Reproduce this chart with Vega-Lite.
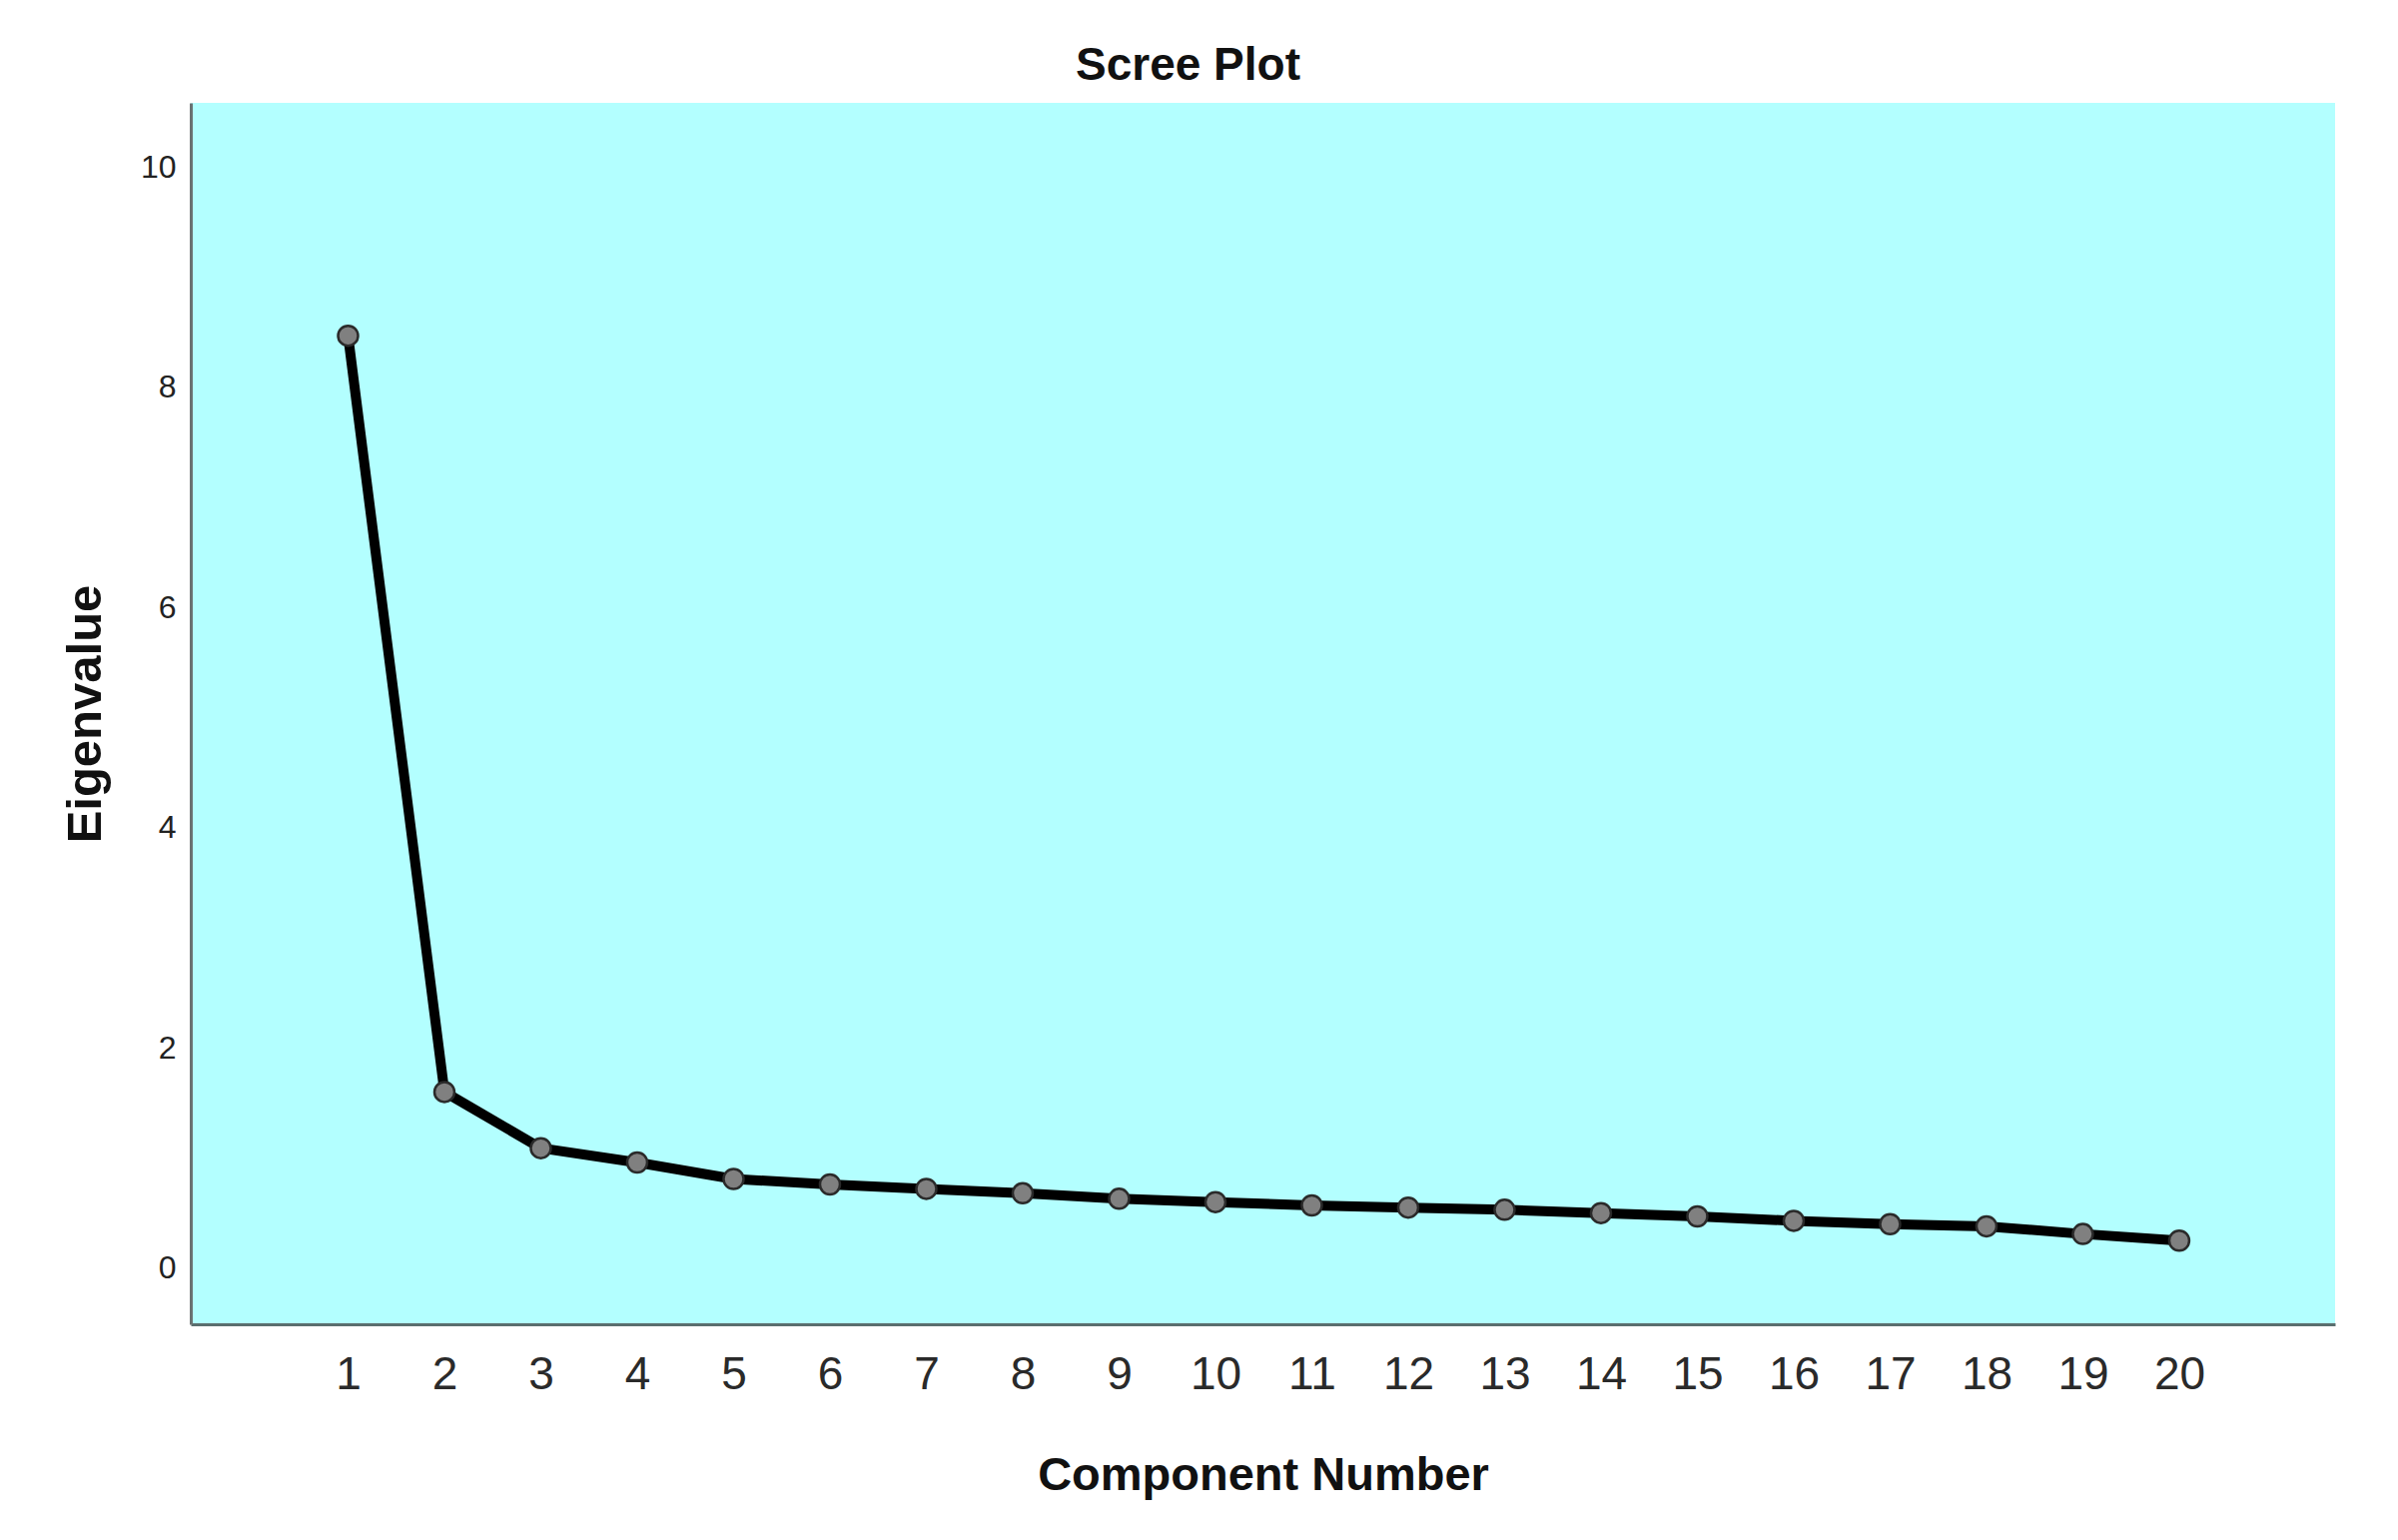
{
  "$schema": "https://vega.github.io/schema/vega-lite/v6.json",
  "autosize": {"type": "none"},
  "padding": {"left": 191, "top": 103, "right": 63, "bottom": 216},
  "width": 2147,
  "height": 1223,
  "background": "white",
  "title": {
    "text": "Scree Plot",
    "font": "Liberation Sans",
    "fontWeight": "bold",
    "fontSize": 46,
    "color": "#111111",
    "anchor": "middle",
    "frame": "group",
    "baseline": "alphabetic",
    "offset": -23,
    "dx": -75
  },
  "data": {
    "values": [
      {"component": 1, "eigenvalue": 8.47},
      {"component": 2, "eigenvalue": 1.60},
      {"component": 3, "eigenvalue": 1.09},
      {"component": 4, "eigenvalue": 0.96},
      {"component": 5, "eigenvalue": 0.81},
      {"component": 6, "eigenvalue": 0.76},
      {"component": 7, "eigenvalue": 0.72},
      {"component": 8, "eigenvalue": 0.68},
      {"component": 9, "eigenvalue": 0.63},
      {"component": 10, "eigenvalue": 0.60},
      {"component": 11, "eigenvalue": 0.57},
      {"component": 12, "eigenvalue": 0.55},
      {"component": 13, "eigenvalue": 0.53},
      {"component": 14, "eigenvalue": 0.50},
      {"component": 15, "eigenvalue": 0.47},
      {"component": 16, "eigenvalue": 0.43},
      {"component": 17, "eigenvalue": 0.40},
      {"component": 18, "eigenvalue": 0.38},
      {"component": 19, "eigenvalue": 0.31},
      {"component": 20, "eigenvalue": 0.25}
    ]
  },
  "encoding": {
    "x": {
      "field": "component",
      "type": "quantitative",
      "scale": {"domain": [-0.632, 21.617], "nice": false, "zero": false},
      "axis": {
        "title": "Component Number",
        "values": [1,2,3,4,5,6,7,8,9,10,11,12,13,14,15,16,17,18,19,20],
        "format": "d",
        "grid": false,
        "ticks": false,
        "labelPadding": 28,
        "labelFont": "Liberation Sans",
        "labelFontSize": 46,
        "labelColor": "#2a2a2a",
        "labelFlush": false,
        "labelOverlap": false,
        "domainColor": "#5a6e6e",
        "domainWidth": 3,
        "titleFont": "Liberation Sans",
        "titleFontWeight": "bold",
        "titleFontSize": 47,
        "titleColor": "#111111",
        "titlePadding": 55
      }
    },
    "y": {
      "field": "eigenvalue",
      "type": "quantitative",
      "scale": {"domain": [-0.51, 10.585], "nice": false, "zero": false},
      "axis": {
        "title": "Eigenvalue",
        "values": [0, 2, 4, 6, 8, 10],
        "grid": false,
        "ticks": false,
        "labelPadding": 15,
        "labelFont": "Liberation Sans",
        "labelFontSize": 32,
        "labelColor": "#222222",
        "labelFlush": false,
        "domainColor": "#6a7272",
        "domainWidth": 3,
        "titleFont": "Liberation Sans",
        "titleFontWeight": "bold",
        "titleFontSize": 49,
        "titleColor": "#111111",
        "titlePadding": 30
      }
    }
  },
  "layer": [
    {
      "mark": {"type": "line", "color": "#000000", "strokeWidth": 10, "strokeJoin": "round", "strokeCap": "round"}
    },
    {
      "mark": {"type": "point", "shape": "circle", "filled": true, "fill": "#808080", "stroke": "#2a2a2a", "strokeWidth": 2.5, "size": 400, "opacity": 1}
    }
  ],
  "config": {
    "view": {"fill": "#b3ffff", "stroke": null}
  }
}
